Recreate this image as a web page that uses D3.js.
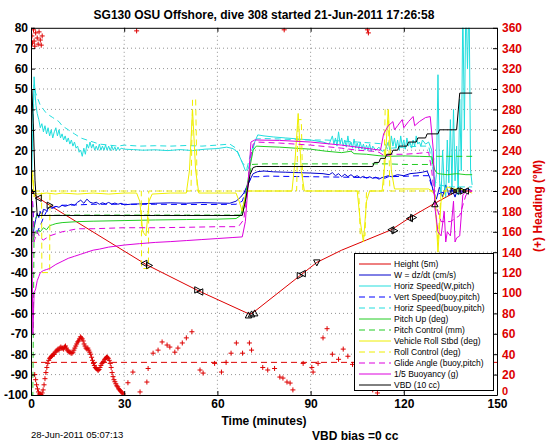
<!DOCTYPE html>
<html><head><meta charset="utf-8">
<script src="https://cdn.jsdelivr.net/npm/d3@7"></script>
<style>body{margin:0;background:#fff} svg{display:block} text{font-family:"Liberation Sans",Arial,Helvetica,sans-serif}</style>
</head><body><svg id="c" width="546" height="442"></svg>
<script>
// ---------- data ----------
const titleText = "SG130 OSU Offshore, dive 308 started 21-Jun-2011 17:26:58";
const timeTicks = [0, 30, 60, 90, 120, 150];
const leftTicks = [-100,-90,-80,-70,-60,-50,-40,-30,-20,-10,0,10,20,30,40,50,60,70,80];
const rightTicks = [0,20,40,60,80,100,120,140,160,180,200,220,240,260,280,300,320,340,360];
const legendLabels = ["Height (5m)","W = dz/dt (cm/s)","Horiz Speed(W,pitch)","Vert Speed(buoy,pitch)","Horiz Speed(buoy,pitch)","Pitch Up (deg)","Pitch Control (mm)","Vehicle Roll Stbd (deg)","Roll Control (deg)","Glide Angle (buoy,pitch)","1/5 Buoyancy (g)","VBD (10 cc)"];

const height = [[0,0],[1,-1.5],[2.5,-3.5],[6,-7],[37,-36],[54,-49],[70.5,-60.5],[72,-59],[87,-41],[92,-35],[100,-29],[108,-24],[116,-19],[122,-13],[130,-6],[136,-1],[138,0],[142,0]];
const markers = [[0,0,"up"],[2.5,-3.5,"left"],[6,-7,"right"],[36.5,-35.5,"left"],[38,-36.5,"right"],[53.5,-48.5,"right"],[54.5,-49.5,"left"],[70,-61,"up"],[71,-60.5,"up"],[72,-60,"up"],[86.5,-41.5,"right"],[87.5,-40.5,"left"],[92,-35,"down"],[116,-19,"left"],[117,-19.5,"right"],[122,-13.5,"left"],[123,-13,"right"],[130,-6.5,"up"],[136,0,"right"],[137,0,"left"],[139,0,"right"],[140,0,"left"]];
const wSpeed = [[0,0],[0.3,-15],[0.6,-22],[1,-18],[1.5,-14],[2,-11],[2.5,-13],[3,-10],[3.5,-12],[4,-9],[5,-9.5],[6,-8],[7,-8.5],[8,-7.5],[9,-8],[10,-7],[11,-7.5],[12,-7],[13,-6.5],[14,-7],[15,-5.5],[16,-4.5],[17,-6],[18,-4],[19,-5.5],[20,-6],[21,-5.5],[22,-6.5],[23,-5.8],[24,-6.3],[25,-5.6],[26,-6.4],[27,-5.9],[28,-6.5],[29,-6],[30,-6.8],[32,-6.5],[35,-6.3],[40,-6],[45,-5.8],[50,-6],[55,-5.7],[60,-5.9],[64,-6],[66,-5],[67.5,-3],[68.5,-1],[70,4],[71.5,8.5],[73,9.5],[75,9.8],[78,9.4],[82,9.2],[86,9],[90,8.8],[94,8.5],[96,8],[97,9],[98,7.5],[99,8.5],[100,7],[101,8.2],[102,7],[103,8],[104,6.8],[105,7.5],[106,6.5],[107,7.2],[108,6.3],[109,7],[110,6.2],[111,6.8],[112,5.8],[113,6.6],[114,7],[115,7.5],[116,7],[118,8],[120,7.5],[122,8.5],[124,8.8],[126,9.2],[127.5,9.8],[128.5,6],[129.5,0],[130.5,-4],[131.5,2],[132.5,-3],[133.5,3],[134.5,-2],[135.5,1],[136.5,-3],[137.5,2],[138.5,-1],[139.5,0.5],[140.5,1],[141.5,0.5]];
const hSpeed = [[0.3,10],[0.7,40],[1,56],[1.3,48],[1.6,42],[2,38],[2.5,35],[3,31],[3.5,33],[4,29],[4.5,32],[5,28],[5.5,31],[6,27],[6.5,30],[7,26],[7.5,29],[8,31],[8.5,27],[9,30],[9.5,26],[10,28],[10.5,25],[11,27],[11.5,24],[12,26],[12.5,23],[13,25],[13.5,22],[14,24],[14.5,21],[15,22],[15.5,19],[16,20],[16.5,17],[17,21],[17.5,18],[18,23],[18.5,21],[19,24],[19.5,21],[20,23],[20.5,20],[21,22],[21.5,20],[22,23],[22.5,20],[23,22],[23.5,20],[24,22.5],[24.5,20],[25,22],[25.5,19.8],[26,22],[26.5,20],[27,21.5],[27.5,19.8],[28,21.5],[28.5,20],[29,21],[30,20.5],[33,20.3],[36,20],[40,20.2],[44,19.8],[48,20.3],[52,19.8],[56,20.5],[60,20.8],[63,21.5],[65,20.8],[66.5,19],[68,14],[69,10],[70,11],[71,17],[72,24],[73,27.5],[75,27],[78,26.5],[82,26],[86,25.5],[90,25],[94,24],[96,23],[97,27],[97.5,23],[98,26],[98.5,22],[99,29],[99.5,23],[100,26],[100.5,22],[101,25],[101.5,21.5],[102,27],[102.5,22],[103,24],[103.5,21],[104,25.5],[104.5,21],[105,23.5],[105.5,20.5],[106,24],[106.5,20.5],[107,23],[107.5,20],[108,22.5],[108.5,20],[109,23],[109.5,19.5],[110,22],[111,20],[112,21.5],[113,19.5],[114,20],[115,24],[115.5,20],[116,27],[116.5,22],[117,26],[117.5,21],[118,25],[118.5,20],[119,27],[119.5,22],[120,25],[120.5,20.5],[121,26],[121.5,22],[122,24],[122.5,21],[123,25],[123.5,22],[124,27],[124.5,23],[125,24],[125.5,22],[126,25],[127,23],[128,24],[129,20],[129.5,10],[130,2],[130.5,8],[131,57],[131.5,5],[132,-2],[132.5,20],[133,3],[133.5,-3],[134,25],[134.5,4],[135,35],[135.5,2],[136,40],[136.5,5],[137,22],[137.5,-2],[138,45],[138.5,10],[139,90],[139.5,30],[140,95],[140.5,60],[141,95],[141.5,10],[142,3]];
const vSpeedBuoy = [[0.5,-5],[1,-18],[2,-20],[3,-17],[4,-13],[5,-10],[7,-8],[10,-7],[15,-6.8],[20,-6.5],[30,-6.5],[40,-6.5],[50,-6.6],[60,-6.6],[66,-6.5],[68,-5],[69.5,2],[71,7],[73,7],[76,7.3],[80,7.2],[90,7],[100,6.8],[110,6.5],[114,6.3],[115,7],[120,7.2],[125,7.5],[128,7.5],[129,2],[130,-2],[134,0],[138,0],[141,0]];
const hSpeedBuoy = [[0.5,20],[1,52],[1.5,48],[2,46],[3,42],[4,40],[5,38],[6,37],[7,36],[8,35],[9,34],[10,32],[12,30],[14,28],[16,26],[18,25],[20,24],[22,23],[25,22.5],[28,22],[30,22.5],[35,22],[40,22.2],[45,22],[50,22.3],[55,22],[60,22.5],[64,23],[66,21],[68,14],[69.5,11],[71,20],[72.5,25.5],[75,25.7],[80,25.5],[85,25.2],[90,25],[95,25],[100,24.5],[105,24],[110,23.5],[114,23],[115,20],[116,21],[120,21.5],[125,22],[128,22],[129,15],[130,5],[131,3],[135,2],[140,2],[142,2]];
const pitchUp = [[0.3,-5],[0.6,-25],[1,-22],[1.5,-20],[2,-21],[2.5,-19],[3,-20],[4,-18],[5,-19],[6,-17],[7,-16.5],[8,-16],[10,-15.5],[15,-15],[20,-14.8],[30,-14.5],[40,-14.2],[50,-14],[60,-13.8],[66,-13.5],[67.5,-12],[69,-3],[70.5,12],[71.5,20],[72.5,22],[75,21.8],[80,21.5],[85,21],[90,20.5],[95,19.5],[100,18.8],[103,19.5],[104,18.3],[108,18],[112,17.3],[115,17],[120,17.2],[125,17],[129,16.8],[130,10],[131,8.5],[134,8],[137,8.5],[140,8],[142,8]];
const pitchCtl = [[0,-60],[0.2,-100],[0.6,-100],[1,-15],[2,-12],[5,-12],[10,-11.8],[20,-11.8],[30,-11.8],[40,-11.8],[50,-11.8],[60,-11.8],[68,-11.8],[69,-5],[70,5],[71,13],[75,13.3],[85,13.3],[95,13.3],[105,13.3],[115,13.3],[120,13],[125,13],[129,13],[130,17],[142,17]];
const roll = [[0,-1],[0.5,8],[1,-3],[1.5,-1],[2,-1.5],[5,-1],[8,-1.5],[10,-1],[15,-1.5],[20,-1],[25,-1.5],[30,-1],[34,-1],[35,-5],[36,-20],[37,-22],[38,-5],[39,-1.5],[45,-1],[50,-1],[51,10],[52,40],[53,10],[54,-1],[60,-1],[66,-1],[67,-5],[68,-10],[69,-2],[70,0],[75,0],[80,0],[84,0],[85,15],[86,38],[87,10],[88,0],[95,0],[100,0],[105,0],[106,-15],[107,-25],[108,-5],[109,0],[113,0],[114,15],[115,40],[116,10],[117,1],[125,1],[128,1],[129,0],[130,-2],[131,-30],[132,-5],[134,2],[136,1],[138,1],[140,0],[142,-1]];
const rollCtl = [[0,0],[0.5,10],[1,0],[3.4,0],[3.5,-40],[6,-40],[6.1,0],[35.5,0],[35.6,-38],[37.8,-38],[37.9,0],[51.5,0],[52,45],[53,45],[53.5,0],[85.5,0],[86,35],[87,35],[87.5,0],[105.5,0],[106,-22],[107.5,-22],[108,0],[113.5,0],[114,40],[115,40],[115.5,0],[130,0],[131,-25],[132,0],[142,0]];
const glide = [[0.5,-5],[1,-25],[1.5,-22],[2,-20],[3,-23],[4,-24],[5,-23],[6,-22],[8,-21],[10,-20],[15,-18.5],[20,-18.5],[30,-18],[40,-18],[50,-17.8],[60,-17.5],[66,-17.5],[67,-17],[68.5,-14],[69.5,-2],[70.5,15],[71.5,23],[72.5,24],[80,23.5],[90,22.5],[100,21],[105,20],[110,19.5],[112,19],[113,18],[114,17],[116,18],[120,18],[125,18.5],[128,19],[129,10],[130,-5],[132,-15],[135,-15],[138,-12],[140,-2],[142,0]];
const buoyancy = [[0.2,0],[0.4,-40],[0.6,-70],[0.8,-60],[1,-50],[1.5,-48],[2,-44],[2.5,-42],[3,-40],[4,-39],[5,-38.5],[6,-38],[8,-36],[10,-34.5],[12,-33],[14,-32],[16,-31],[18,-30],[20,-29],[22,-28.5],[25,-27.5],[30,-26.5],[35,-25.8],[40,-25.2],[45,-24.8],[50,-24.3],[55,-23.8],[60,-23.3],[65,-22.8],[68,-22.5],[69,-15],[70,5],[70.8,24],[72,25],[80,24.8],[90,24],[100,22.5],[110,20.5],[112.5,20],[113.5,28],[115,32],[116.5,34],[117,30],[118,32],[119.5,35],[120,31],[121.5,34],[123,36.5],[123.5,32],[125,34],[127,36],[128.5,36.5],[129.5,20],[130,-8],[131,-20],[132,-22],[133,-10],[133.5,-25],[134,-20],[135,-22],[136,-5],[136.5,-25],[137,-23],[138,-22],[139,-2],[140,0],[142,0]];
const vbd = [[0,50],[0.3,50],[0.8,30],[1.3,5],[2,-12],[10,-12],[20,-12],[30,-12],[40,-12],[50,-12],[60,-12],[68,-12],[69,-5],[70.5,8],[71.5,11.5],[72.5,12],[80,12],[90,12],[100,12],[110,12],[110.5,14],[112,14],[112.5,16],[114,16],[114.5,18],[116,18],[116.5,20],[118,20],[118.5,22],[121,22],[121.5,24],[124,24],[124.5,26],[127,26],[127.5,28],[131,28],[131.5,30],[137,30],[138,48],[142,48]];
const heading = [[0.3,352],[0.5,345],[0.8,358],[1,347],[1.2,342],[1.5,355],[2,350],[2.3,344],[2.6,356],[3,348],[3.3,343],[3.6,352],
 [1.2,20],[1.5,15],[1.8,10],[2.1,6],[2.4,3],[2.7,1],[3.0,0.5],[3.3,0],[3.6,2],[3.9,5],[4.2,10],[4.5,16],[4.8,22],[5.1,27],[5.4,31],[5.7,34],[6.0,36],[6.3,37],[6.6,38],[6.9,39],[7.2,40],[7.5,40],[7.8,42],[8.1,43],[8.4,44],[8.7,45],[9.0,44],[9.3,46],[9.6,47],[9.9,46],[10.2,46],[10.5,45],[10.8,47],[11.1,48],[11.4,46],[11.7,44],[12.0,43],[12.3,42],[12.6,42],[12.9,41],[13.2,41],[13.5,42],[13.8,44],[14.1,46],[14.4,48],[14.7,50],[15.0,52],[15.3,53],[15.6,55],[15.9,57],[16.2,56],[16.5,55],[16.8,53],[17.1,50],[17.4,48],[17.7,46],[18.0,45],[18.3,46],[18.6,44],[18.9,42],[19.2,40],[19.5,37],[19.8,34],[20.1,31],[20.4,29],[20.7,27],[21.0,26],[21.3,25],[21.6,24],[21.9,25],[22.2,27],[22.5,29],[22.8,31],[23.1,32],[23.4,33],[23.7,35],[24.0,36],[24.3,37],[24.6,37],[24.9,36],[25.2,34],[25.5,31],[25.8,27],[26.1,22],[26.4,18],[26.7,15],[27.0,13],[27.3,11],[27.6,9],[27.9,8],[28.2,6],[28.5,5],[28.8,4],[29.1,3],[29.4,2],[29.7,1],
 [31.2,12],[32.8,22.5],[34,357],[35.1,3],[37.3,12.7],[37.7,26],[39.3,41],[40.9,44],[42.2,52],[43.8,49],[44.7,47],[46.3,42],[47.3,46],[48.7,51],[50,56],[51.8,62],[54.4,24.5],[55.4,21.5],[59.1,31],[61.3,22.5],[62.8,32],[64.4,41],[66.1,51],[68.1,41],[70.3,51],[71,44],[74.6,27],[76.2,24.5],[78.4,26],[80.1,17.6],[81.5,358],[81.1,16.6],[82.4,12.7],[83.4,11.7],[84.3,5],[87.6,31],[90.4,27],[90.8,22.5],[92.4,31],[94,56],[95.3,65],[97,40],[99,35],[100.5,45],[102,38],[103.5,30],[105,25],[106.5,12],[108.3,358],[108.6,355],[110,5],[111.5,2],[113,30],[116,60],[117.5,100],[119,105],[120.5,70],[122,40],[123.5,35],[125,45],[127,50],[129,38],[131,42],[133,30],[135,35],[137,28],[139,25]];
const headingTarget = 32;

// ---------- layout ----------
const svg = d3.select("#c");
svg.append("rect").attr("width",546).attr("height",442).attr("fill","#fff");
const x = d3.scaleLinear().domain([0,150]).range([31,497]);
const y = d3.scaleLinear().domain([-100,80]).range([395,27.8]);
const yR = d3.scaleLinear().domain([0,360]).range([395,27.8]);
const FONT = '"Liberation Sans",Arial,Helvetica,sans-serif';

svg.append("defs").append("clipPath").attr("id","clip").append("rect")
  .attr("x",31).attr("y",27.8).attr("width",466).attr("height",367.2);

// grid
const grid = svg.append("g").attr("stroke","#777").attr("stroke-width",0.8).attr("stroke-dasharray","1,3");
timeTicks.slice(1,-1).forEach(t=>grid.append("line").attr("x1",x(t)).attr("x2",x(t)).attr("y1",y(80)).attr("y2",y(-100)));
leftTicks.slice(1,-1).forEach(v=>grid.append("line").attr("x1",x(0)).attr("x2",x(150)).attr("y1",y(v)).attr("y2",y(v)));

const plot = svg.append("g").attr("clip-path","url(#clip)");

// heading
const red = "#dd0000";
plot.append("line").attr("x1",x(0)).attr("x2",x(150)).attr("y1",yR(headingTarget)).attr("y2",yR(headingTarget))
  .attr("stroke",red).attr("stroke-width",1).attr("stroke-dasharray","6,4");
const hp = plot.append("g").attr("stroke",red).attr("stroke-width",1);
heading.forEach(d=>{
  const px=x(d[0]), py=yR(d[1]);
  hp.append("path").attr("d",`M${px-2.5},${py}H${px+2.5}M${px},${py-2.5}V${py+2.5}`);
});

const line = d3.line().x(d=>x(d[0])).y(d=>y(d[1]));
const series = [
  {d:height, c:red, dash:null},
  {d:wSpeed, c:"#0000cc", dash:null},
  {d:hSpeed, c:"#22dddd", dash:null},
  {d:vSpeedBuoy, c:"#0000ff", dash:"6,4"},
  {d:hSpeedBuoy, c:"#22dddd", dash:"6,4"},
  {d:pitchUp, c:"#22cc22", dash:null},
  {d:pitchCtl, c:"#22cc22", dash:"6,4"},
  {d:roll, c:"#eeee00", dash:null},
  {d:rollCtl, c:"#eeee00", dash:"6,4"},
  {d:glide, c:"#dd00dd", dash:"6,4"},
  {d:buoyancy, c:"#dd00dd", dash:null},
  {d:vbd, c:"#000000", dash:null}
];
series.forEach(s=>{
  plot.append("path").attr("d",line(s.d)).attr("fill","none").attr("stroke",s.c).attr("stroke-width",1)
    .attr("stroke-dasharray",s.dash);
});

// markers on height
const tri = {up:"M0,-3.5L3.2,2.5L-3.2,2.5Z",down:"M0,3.5L3.2,-2.5L-3.2,-2.5Z",left:"M-3.5,0L2.5,-3.2L2.5,3.2Z",right:"M3.5,0L-2.5,-3.2L-2.5,3.2Z"};
markers.forEach(m=>{
  plot.append("path").attr("d",tri[m[2]]).attr("transform",`translate(${x(m[0])},${y(m[1])})`)
    .attr("fill","none").attr("stroke","#000").attr("stroke-width",1);
});

// axes
function styleAxis(g, color){
  g.selectAll("path,line").attr("stroke","#000");
  g.selectAll("text").attr("font-family",FONT).attr("font-size","12px").attr("font-weight","bold").attr("fill",color);
}
const ax = svg.append("g").attr("transform",`translate(0,${y(-100)})`)
  .call(d3.axisBottom(x).tickValues(timeTicks).tickSize(-4).tickPadding(4).tickSizeOuter(0).tickFormat(d3.format("d")));
styleAxis(ax,"#000");
const axT = svg.append("g").attr("transform",`translate(0,${y(80)})`)
  .call(d3.axisTop(x).tickValues(timeTicks).tickSize(-4).tickSizeOuter(0).tickFormat(""));
styleAxis(axT,"#000");
const ay = svg.append("g").attr("transform",`translate(${x(0)},0)`)
  .call(d3.axisLeft(y).tickValues(leftTicks).tickSize(-4).tickPadding(3).tickSizeOuter(0).tickFormat(d=>String(d)));
styleAxis(ay,"#000");
const ayR = svg.append("g").attr("transform",`translate(${x(150)},0)`)
  .call(d3.axisRight(yR).tickValues(rightTicks).tickSize(-4).tickPadding(5).tickSizeOuter(0).tickFormat(d=>String(d)));
styleAxis(ayR,red);
ayR.selectAll(".tick").filter(d=>d===0).select("text").attr("dy","-0.05em").attr("font-size","11px");

// titles
svg.append("text").attr("x",264).attr("y",19).attr("text-anchor","middle").attr("font-family",FONT)
  .attr("font-size","12px").attr("font-weight","bold").text(titleText);
svg.append("text").attr("x",264).attr("y",425).attr("text-anchor","middle").attr("font-family",FONT)
  .attr("font-size","12px").attr("font-weight","bold").text("Time (minutes)");
svg.append("text").attr("transform","translate(542,206) rotate(-90)").attr("text-anchor","middle").attr("font-family",FONT)
  .attr("font-size","12px").attr("font-weight","bold").attr("fill",red).text("(+) Heading (°M)");
svg.append("text").attr("x",31).attr("y",438).attr("font-family",FONT).attr("font-size","9.5px").text("28-Jun-2011 05:07:13");
svg.append("text").attr("x",312).attr("y",440).attr("font-family",FONT).attr("font-size","12px").attr("font-weight","bold").text("VBD bias =0 cc");

// legend
const lg = svg.append("g");
lg.append("rect").attr("x",354.5).attr("y",253.5).attr("width",139).attr("height",137).attr("fill","#fff").attr("stroke","#000").attr("stroke-width",1);
legendLabels.forEach((lab,i)=>{
  const yy = 264 + i*11;
  const s = series[i];
  lg.append("line").attr("x1",359).attr("x2",391).attr("y1",yy).attr("y2",yy).attr("stroke",s.c).attr("stroke-width",1).attr("stroke-dasharray",s.dash);
  lg.append("text").attr("x",394).attr("y",yy+3).attr("font-family",FONT).attr("font-size","8.5px").text(lab);
});
</script></body></html>
